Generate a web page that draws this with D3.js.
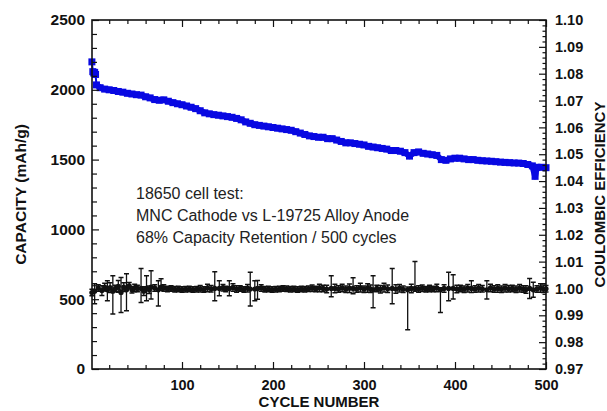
<!DOCTYPE html>
<html>
<head>
<meta charset="utf-8">
<script src="https://cdn.jsdelivr.net/npm/d3@7"></script>
<style>
  html, body { margin: 0; padding: 0; background: #fff; }
  svg { display: block; font-family: 'Liberation Sans', Arial, sans-serif; }
</style>
</head>
<body>
<div id="chart"></div>
<script>
const blue = '#0808e2';
const ink  = '#111';

// capacity (left axis)
const capCycles = [
  1, 2, 3, 4, 5, 6, 10, 15, 20, 25,
  30, 35, 40, 45, 50, 55, 60, 65, 70, 75,
  80, 85, 90, 95, 100, 105, 110, 115, 120, 125,
  130, 135, 140, 145, 150, 155, 160, 165, 170, 175,
  180, 185, 190, 195, 200, 205, 210, 215, 220, 225,
  230, 235, 240, 245, 250, 255, 260, 265, 270, 275,
  280, 285, 290, 295, 300, 305, 310, 315, 320, 325,
  330, 335, 340, 345, 350, 355, 360, 365, 370, 375,
  380, 385, 390, 395, 400, 405, 410, 415, 420, 425,
  430, 435, 440, 445, 450, 455, 460, 465, 470, 475,
  480, 485, 488, 490, 495, 500
];
const capValues = [
  2200, 2130, 2120, 2125, 2110, 2035, 2015, 2005, 2000, 1995,
  1988, 1983, 1975, 1970, 1965, 1962, 1950, 1942, 1930, 1925,
  1928, 1918, 1908, 1900, 1893, 1884, 1875, 1865, 1850, 1835,
  1828, 1822, 1818, 1813, 1808, 1803, 1795, 1785, 1770, 1760,
  1750, 1745, 1740, 1735, 1730, 1725, 1720, 1715, 1710, 1700,
  1690, 1680, 1670, 1665, 1660, 1660, 1650, 1650, 1640, 1630,
  1620, 1620, 1615, 1610, 1605, 1595, 1590, 1585, 1580, 1575,
  1565, 1565, 1560, 1550, 1525, 1550, 1555, 1545, 1540, 1535,
  1530, 1500, 1495, 1505, 1510, 1510, 1505, 1500, 1500, 1495,
  1492, 1490, 1488, 1485, 1482, 1480, 1478, 1476, 1475, 1472,
  1465, 1455, 1380, 1445, 1445, 1442
];

// coulombic efficiency (right axis) with asymmetric error bars
const ceCycles = [
  1, 4, 8, 12, 15, 18, 21, 24, 27, 30,
  33, 36, 39, 42, 45, 48, 51, 55, 58, 61,
  64, 66, 70, 74, 77, 80, 84, 88, 92, 96,
  100, 104, 108, 112, 116, 120, 124, 128, 132, 136,
  141, 145, 148, 152, 156, 160, 164, 168, 172, 175,
  180, 183, 187, 191, 195, 199, 203, 207, 211, 215,
  219, 223, 227, 231, 235, 239, 243, 247, 251, 255,
  259, 264, 268, 272, 276, 280, 284, 288, 292, 296,
  300, 304, 307, 310, 314, 318, 322, 326, 331, 335,
  339, 343, 348, 352, 356, 360, 364, 368, 372, 376,
  380, 384, 388, 393, 398, 402, 406, 410, 414, 418,
  422, 426, 430, 435, 439, 443, 447, 451, 455, 459,
  463, 467, 471, 475, 478, 482, 486, 490, 494, 497, 500
];
const ceValues = [
  0.9985, 0.9990, 1.0002, 0.9992, 1.0005, 0.9995, 1.0003, 0.9990, 1.0000, 1.0008,
  0.9985, 1.0005, 0.9995, 1.0010, 0.9995, 1.0002, 1.0000, 1.0000, 0.9990, 1.0000,
  0.9995, 1.0005, 1.0002, 0.9995, 1.0005, 1.0002, 0.9998, 1.0000, 0.9997, 0.9998,
  0.9996, 0.9997, 0.9998, 0.9996, 0.9997, 0.9999, 0.9996, 1.0002, 0.9999, 1.0000,
  1.0000, 1.0003, 0.9998, 1.0000, 1.0004, 0.9998, 1.0000, 0.9996, 1.0001, 0.9998,
  0.9998, 1.0000, 1.0002, 0.9997, 0.9998, 0.9996, 0.9997, 0.9998, 1.0000, 0.9999,
  0.9997, 0.9998, 0.9996, 0.9998, 0.9997, 0.9999, 1.0001, 0.9998, 1.0002, 1.0000,
  0.9998, 1.0000, 1.0000, 0.9998, 1.0002, 0.9997, 1.0001, 1.0000, 0.9998, 1.0003,
  0.9997, 1.0002, 0.9999, 0.9995, 1.0000, 0.9997, 1.0003, 0.9999, 1.0000, 0.9998,
  1.0001, 0.9997, 0.9995, 1.0000, 1.0000, 0.9998, 1.0001, 0.9997, 1.0000, 0.9998,
  1.0002, 0.9995, 1.0000, 1.0000, 1.0000, 0.9998, 1.0000, 0.9997, 1.0001, 1.0000,
  0.9998, 1.0001, 0.9999, 0.9995, 1.0002, 0.9998, 1.0000, 0.9997, 1.0001, 0.9999,
  1.0000, 0.9997, 1.0001, 0.9998, 0.9996, 1.0000, 0.9995, 0.9998, 1.0002, 0.9999, 0.9999
];
const ceErrUp = [
  0.0012, 0.0028, 0.0012, 0.0018, 0.0014, 0.0034, 0.0018, 0.0057, 0.0012, 0.0022,
  0.0056, 0.0016, 0.0060, 0.0012, 0.0012, 0.0014, 0.0012, 0.0074, 0.0016, 0.0047,
  0.0014, 0.0061, 0.0012, 0.0034, 0.0031, 0.0012, 0.0010, 0.0010, 0.0010, 0.0010,
  0.0010, 0.0010, 0.0010, 0.0010, 0.0010, 0.0012, 0.0010, 0.0014, 0.0012, 0.0062,
  0.0029, 0.0012, 0.0010, 0.0029, 0.0014, 0.0012, 0.0010, 0.0010, 0.0014, 0.0062,
  0.0031, 0.0030, 0.0012, 0.0010, 0.0010, 0.0010, 0.0010, 0.0010, 0.0010, 0.0010,
  0.0010, 0.0010, 0.0010, 0.0010, 0.0010, 0.0010, 0.0012, 0.0010, 0.0014, 0.0012,
  0.0014, 0.0047, 0.0016, 0.0012, 0.0014, 0.0012, 0.0016, 0.0040, 0.0012, 0.0016,
  0.0012, 0.0016, 0.0014, 0.0052, 0.0012, 0.0014, 0.0016, 0.0014, 0.0074, 0.0016,
  0.0014, 0.0012, 0.0010, 0.0016, 0.0100, 0.0012, 0.0012, 0.0010, 0.0012, 0.0010,
  0.0014, 0.0008, 0.0014, 0.0060, 0.0051, 0.0014, 0.0012, 0.0012, 0.0014, 0.0029,
  0.0012, 0.0014, 0.0012, 0.0034, 0.0014, 0.0012, 0.0014, 0.0012, 0.0014, 0.0012,
  0.0012, 0.0012, 0.0014, 0.0012, 0.0014, 0.0037, 0.0028, 0.0012, 0.0016, 0.0014, 0.0012
];
const ceErrDown = [
  0.0012, 0.0047, 0.0012, 0.0018, 0.0014, 0.0041, 0.0018, 0.0085, 0.0012, 0.0022,
  0.0075, 0.0016, 0.0078, 0.0012, 0.0012, 0.0014, 0.0012, 0.0052, 0.0016, 0.0046,
  0.0014, 0.0044, 0.0012, 0.0060, 0.0012, 0.0012, 0.0010, 0.0010, 0.0010, 0.0010,
  0.0010, 0.0010, 0.0010, 0.0010, 0.0010, 0.0012, 0.0010, 0.0014, 0.0012, 0.0046,
  0.0027, 0.0012, 0.0010, 0.0027, 0.0014, 0.0012, 0.0010, 0.0010, 0.0014, 0.0063,
  0.0044, 0.0040, 0.0012, 0.0010, 0.0010, 0.0010, 0.0010, 0.0010, 0.0010, 0.0010,
  0.0010, 0.0010, 0.0010, 0.0010, 0.0010, 0.0010, 0.0012, 0.0010, 0.0014, 0.0012,
  0.0014, 0.0031, 0.0016, 0.0012, 0.0014, 0.0012, 0.0016, 0.0020, 0.0012, 0.0016,
  0.0012, 0.0016, 0.0014, 0.0067, 0.0012, 0.0014, 0.0016, 0.0014, 0.0057, 0.0016,
  0.0014, 0.0012, 0.0149, 0.0016, 0.0010, 0.0012, 0.0012, 0.0010, 0.0012, 0.0010,
  0.0014, 0.0085, 0.0014, 0.0046, 0.0039, 0.0014, 0.0012, 0.0012, 0.0014, 0.0015,
  0.0012, 0.0014, 0.0012, 0.0034, 0.0014, 0.0012, 0.0014, 0.0012, 0.0014, 0.0012,
  0.0012, 0.0012, 0.0014, 0.0012, 0.0014, 0.0037, 0.0028, 0.0012, 0.0016, 0.0014, 0.0012
];

const xTicks   = [100, 200, 300, 400, 500];
const capTicks = [0, 500, 1000, 1500, 2000, 2500];
const ceTicks  = [0.97, 0.98, 0.99, 1.00, 1.01, 1.02, 1.03, 1.04, 1.05, 1.06, 1.07, 1.08, 1.09, 1.10];

const notes = [
  '18650 cell test:',
  'MNC Cathode vs L-19725 Alloy Anode',
  '68% Capacity Retention / 500 cycles'
];

const W = 607, H = 411;
const L = 92, R = 546, T = 20, B = 369;

const svg = d3.select('#chart').append('svg').attr('width', W).attr('height', H);

const x  = d3.scaleLinear().domain([0, 500]).range([L - 1, R]);
const yL = d3.scaleLinear().domain([0, 2500]).range([B, T]);
const yR = d3.scaleLinear().domain([0.97, 1.10]).range([B, T]);

// ---- CE series (black, error bars)
const ce = ceCycles.map((c, i) => ({ c, v: ceValues[i], up: ceErrUp[i], dn: ceErrDown[i] }));
const gCE = svg.append('g');
gCE.selectAll('line.eb').data(ce).join('line')
  .attr('class', 'eb')
  .attr('x1', d => x(d.c)).attr('x2', d => x(d.c))
  .attr('y1', d => yR(d.v - d.dn)).attr('y2', d => yR(d.v + d.up))
  .attr('stroke', ink).attr('stroke-width', 1.3);
gCE.selectAll('path.cap').data(ce).join('path')
  .attr('class', 'cap')
  .attr('d', d => {
    const cx = x(d.c), a = yR(d.v + d.up), b = yR(d.v - d.dn);
    return `M${cx - 2.5},${a}H${cx + 2.5}M${cx - 2.5},${b}H${cx + 2.5}`;
  })
  .attr('stroke', ink).attr('stroke-width', 1.5).attr('fill', 'none');
gCE.append('path').datum(ce)
  .attr('d', d3.line().x(d => x(d.c)).y(d => yR(d.v)))
  .attr('fill', 'none').attr('stroke', ink).attr('stroke-width', 2);
gCE.selectAll('circle').data(ce).join('circle')
  .attr('cx', d => x(d.c)).attr('cy', d => yR(d.v)).attr('r', 2.6)
  .attr('fill', ink);

// ---- capacity series (blue)
const cap = capCycles.map((c, i) => ({ c, v: capValues[i] }));
const gCap = svg.append('g');
gCap.append('path').datum(cap.slice(5))
  .attr('d', d3.line().x(d => x(d.c)).y(d => yL(d.v)))
  .attr('fill', 'none').attr('stroke', blue).attr('stroke-width', 6)
  .attr('stroke-linejoin', 'round');
gCap.append('path').datum(cap.slice(0, 7))
  .attr('d', d3.line().x(d => x(d.c)).y(d => yL(d.v)))
  .attr('fill', 'none').attr('stroke', blue).attr('stroke-width', 2);
gCap.selectAll('rect').data(cap).join('rect')
  .attr('x', d => x(d.c) - 3.5).attr('y', d => yL(d.v) - 3.5)
  .attr('width', 7).attr('height', 7).attr('fill', blue);

// ---- axes
const axisStyle = (g, size) => g.call(a => a.select('.domain').remove())
  .call(a => a.selectAll('line').attr('stroke', ink).attr('stroke-width', 1.2))
  .call(a => a.selectAll('text').attr('fill', ink).style('font-weight', 'bold').style('font-size', size));

const xMinor = d3.range(20, 500, 20).filter(v => v % 100 !== 0);
svg.append('g').attr('transform', `translate(0,${B})`)
  .call(d3.axisBottom(x).tickValues(xTicks).tickSize(-7).tickPadding(11).tickFormat(d3.format('d')))
  .call(g => axisStyle(g, '14.5px'));
svg.append('g').attr('transform', `translate(0,${B})`)
  .call(d3.axisBottom(x).tickValues(xMinor).tickSize(-4).tickFormat(''))
  .call(g => axisStyle(g, '1px'));
svg.append('g').attr('transform', `translate(0,${T})`)
  .call(d3.axisTop(x).tickValues(xTicks).tickSize(-7).tickFormat(''))
  .call(g => axisStyle(g, '1px'));
svg.append('g').attr('transform', `translate(0,${T})`)
  .call(d3.axisTop(x).tickValues(xMinor).tickSize(-4).tickFormat(''))
  .call(g => axisStyle(g, '1px'));

const capMinor = d3.range(100, 2500, 100).filter(v => v % 500 !== 0);
svg.append('g').attr('transform', `translate(${L},0)`)
  .call(d3.axisLeft(yL).tickValues(capTicks).tickSize(-7).tickPadding(7).tickFormat(d3.format('d')))
  .call(g => axisStyle(g, '15.5px'));
svg.append('g').attr('transform', `translate(${L},0)`)
  .call(d3.axisLeft(yL).tickValues(capMinor).tickSize(-5).tickFormat(''))
  .call(g => axisStyle(g, '1px'));

const ceMinor = d3.range(0, 65).map(i => 0.97 + i * 0.002).filter((v, i) => i % 5 !== 0);
svg.append('g').attr('transform', `translate(${R},0)`)
  .call(d3.axisRight(yR).tickValues(ceTicks).tickSize(-7).tickPadding(9).tickFormat(d3.format('.2f')))
  .call(g => axisStyle(g, '14.5px'));
svg.append('g').attr('transform', `translate(${R},0)`)
  .call(d3.axisRight(yR).tickValues(ceMinor).tickSize(-3.5).tickFormat(''))
  .call(g => axisStyle(g, '1px'));

// frame
svg.append('rect')
  .attr('x', L).attr('y', T).attr('width', R - L).attr('height', B - T)
  .attr('fill', 'none').attr('stroke', ink).attr('stroke-width', 1.6);

// ---- titles
svg.append('text')
  .attr('x', (L + R) / 2).attr('y', 407).attr('text-anchor', 'middle')
  .style('font-weight', 'bold').style('font-size', '15px').attr('fill', ink)
  .text('CYCLE NUMBER');
svg.append('text')
  .attr('transform', `translate(26,${(T + B) / 2}) rotate(-90)`).attr('text-anchor', 'middle')
  .style('font-weight', 'bold').style('font-size', '15.5px').attr('fill', ink)
  .text('CAPACITY (mAh/g)');
svg.append('text')
  .attr('transform', `translate(605,${(T + B) / 2}) rotate(-90)`).attr('text-anchor', 'middle')
  .style('font-weight', 'bold').style('font-size', '15px').attr('fill', ink)
  .text('COULOMBIC EFFICIENCY');

// ---- annotation
svg.append('g').selectAll('text').data(notes).join('text')
  .attr('x', 136).attr('y', (d, i) => 199 + i * 22)
  .style('font-size', '16px').attr('fill', '#222')
  .text(d => d);
</script>
</body>
</html>
